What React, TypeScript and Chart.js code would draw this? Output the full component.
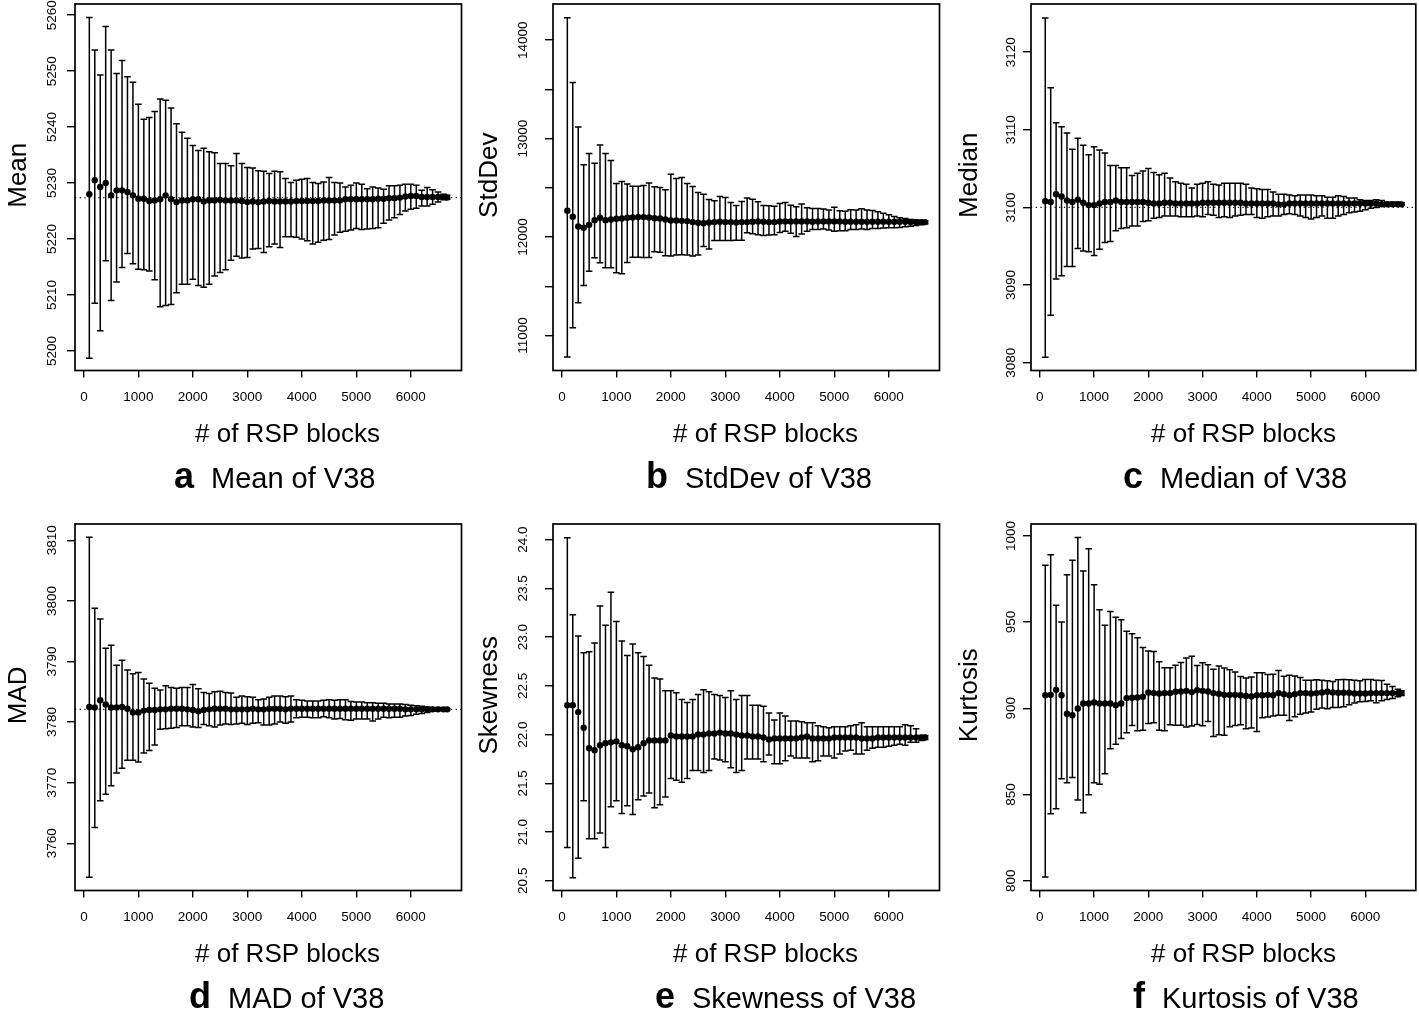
import React, { useEffect, useRef } from "react";
import { Chart, registerables } from "chart.js";

Chart.register(...registerables);

const FONT = "'Liberation Sans', Arial, Helvetica, sans-serif";

// ---------------- data ----------------
const blocks = [
  100, 200, 300, 400, 500, 600, 700, 800, 900, 1000,
  1100, 1200, 1300, 1400, 1500, 1600, 1700, 1800, 1900, 2000,
  2100, 2200, 2300, 2400, 2500, 2600, 2700, 2800, 2900, 3000,
  3100, 3200, 3300, 3400, 3500, 3600, 3700, 3800, 3900, 4000,
  4100, 4200, 4300, 4400, 4500, 4600, 4700, 4800, 4900, 5000,
  5100, 5200, 5300, 5400, 5500, 5600, 5700, 5800, 5900, 6000,
  6100, 6200, 6300, 6400, 6500, 6600, 6667,
];

const xTickValues = [0, 1000, 2000, 3000, 4000, 5000, 6000];

// a: Mean
const meanCenter = [
  5228.0, 5230.5, 5229.3, 5230.0, 5227.8, 5228.7, 5228.7, 5228.4, 5227.8, 5227.2,
  5227.2, 5226.8, 5226.9, 5227.1, 5227.8, 5227.1, 5226.6, 5226.9, 5226.9, 5227.1,
  5227.1, 5226.7, 5226.9, 5226.9, 5227.0, 5226.9, 5226.9, 5226.9, 5226.8, 5226.6,
  5226.7, 5226.6, 5226.7, 5226.8, 5226.7, 5226.7, 5226.7, 5226.7, 5226.8, 5226.8,
  5226.8, 5226.8, 5226.8, 5226.9, 5226.9, 5226.9, 5226.9, 5227.1, 5227.1, 5227.1,
  5227.1, 5227.1, 5227.1, 5227.2, 5227.2, 5227.3, 5227.3, 5227.4, 5227.6, 5227.7,
  5227.7, 5227.5, 5227.5, 5227.5, 5227.5, 5227.5, 5227.4,
];
const meanUpper = [
  5259.6, 5253.8, 5249.3, 5258.0, 5253.8, 5249.6, 5251.9, 5249.0, 5248.0, 5244.1,
  5241.4, 5241.7, 5242.8, 5245.0, 5244.8, 5243.4, 5240.6, 5239.1, 5238.0, 5236.7,
  5235.8, 5236.2, 5235.6, 5235.4, 5233.5, 5233.5, 5233.1, 5235.3, 5233.5, 5232.8,
  5232.7, 5232.2, 5232.1, 5231.7, 5232.1, 5232.0, 5230.8, 5230.1, 5230.5, 5230.7,
  5230.8, 5230.1, 5229.9, 5230.2, 5231.0, 5230.1, 5230.0, 5229.3, 5229.6, 5230.0,
  5229.8, 5229.0, 5229.3, 5229.1, 5228.9, 5229.5, 5229.5, 5229.6, 5229.8, 5229.8,
  5229.6, 5228.7, 5229.2, 5228.8, 5228.4, 5228.0, 5227.8,
];
const meanLower = [
  5198.7, 5208.5, 5203.6, 5216.1, 5209.0, 5212.3, 5214.9, 5217.4, 5215.6, 5214.6,
  5214.5, 5214.3, 5212.7, 5207.9, 5208.1, 5208.3, 5210.4, 5211.9, 5211.9, 5212.8,
  5211.7, 5211.4, 5211.9, 5213.4, 5214.0, 5214.5, 5216.2, 5216.9, 5216.6, 5216.7,
  5218.2, 5218.3, 5217.6, 5218.6, 5219.1, 5218.5, 5220.4, 5220.4, 5220.3, 5220.0,
  5219.7, 5219.1, 5219.4, 5219.8, 5219.9, 5220.7, 5221.2, 5221.4, 5221.6, 5221.9,
  5221.7, 5221.8, 5221.9, 5222.0, 5222.8, 5223.4, 5223.8, 5224.4, 5225.0, 5225.3,
  5225.5, 5225.9, 5225.9, 5226.2, 5226.6, 5227.0, 5227.1,
];
const meanTicks = [5200, 5210, 5220, 5230, 5240, 5250, 5260];
const meanTickLabels = ["5200", "5210", "5220", "5230", "5240", "5250", "5260"];

// b: StdDev
const sdCenter = [
  12267, 12206, 12108, 12094, 12125, 12172, 12196, 12172, 12179, 12186,
  12189, 12196, 12199, 12203, 12203, 12199, 12192, 12189, 12179, 12169,
  12169, 12165, 12162, 12152, 12145, 12141, 12148, 12152, 12155, 12152,
  12152, 12148, 12152, 12152, 12155, 12159, 12155, 12152, 12152, 12159,
  12159, 12159, 12159, 12159, 12159, 12155, 12159, 12159, 12159, 12159,
  12159, 12155, 12155, 12155, 12155, 12155, 12155, 12155, 12155, 12155,
  12155, 12155, 12155, 12152, 12152, 12152, 12152,
];
const sdUpper = [
  14227, 13570, 13117, 12734, 12849, 12751, 12934, 12849, 12778, 12544,
  12565, 12538, 12517, 12517, 12524, 12548, 12511, 12504, 12480, 12639,
  12595, 12605, 12544, 12514, 12453, 12436, 12382, 12368, 12412, 12402,
  12351, 12321, 12362, 12396, 12385, 12358, 12321, 12318, 12314, 12341,
  12351, 12324, 12307, 12335, 12297, 12290, 12290, 12284, 12274, 12304,
  12267, 12263, 12277, 12274, 12287, 12274, 12270, 12257, 12243, 12226,
  12209, 12196, 12189, 12179, 12175, 12169, 12165,
];
const sdLower = [
  10781, 11079, 11333, 11509, 11654, 11790, 11739, 11688, 11688, 11637,
  11627, 11742, 11796, 11796, 11793, 11793, 11851, 11847, 11810, 11807,
  11817, 11820, 11817, 11807, 11817, 11905, 11878, 11966, 11966, 11966,
  11966, 11969, 11969, 12043, 12033, 12023, 12016, 12020, 12023, 12047,
  12060, 12040, 12006, 12030, 12060, 12077, 12077, 12081, 12071, 12060,
  12064, 12064, 12077, 12077, 12081, 12077, 12087, 12087, 12091, 12094,
  12094, 12098, 12104, 12111, 12118, 12125, 12135,
];
const sdTicks = [11000, 11500, 12000, 12500, 13000, 13500, 14000];
const sdTickLabels = ["11000", "", "12000", "", "13000", "", "14000"];

// c: Median
const medCenter = [
  3100.8, 3100.7, 3101.7, 3101.4, 3100.9, 3100.7, 3101.0, 3100.6, 3100.3, 3100.3,
  3100.5, 3100.7, 3100.7, 3100.9, 3100.7, 3100.7, 3100.7, 3100.7, 3100.7, 3100.6,
  3100.5, 3100.5, 3100.6, 3100.6, 3100.5, 3100.5, 3100.5, 3100.5, 3100.5, 3100.6,
  3100.6, 3100.6, 3100.6, 3100.6, 3100.6, 3100.6, 3100.6, 3100.5, 3100.5, 3100.5,
  3100.5, 3100.5, 3100.5, 3100.4, 3100.4, 3100.5, 3100.5, 3100.5, 3100.5, 3100.5,
  3100.5, 3100.5, 3100.5, 3100.5, 3100.5, 3100.5, 3100.5, 3100.5, 3100.5, 3100.5,
  3100.5, 3100.5, 3100.4, 3100.4, 3100.4, 3100.4, 3100.4,
];
const medUpper = [
  3124.4, 3115.4, 3110.9, 3110.4, 3109.6, 3107.5, 3108.9, 3108.0, 3106.8, 3107.8,
  3107.4, 3107.0, 3105.4, 3105.4, 3105.1, 3105.1, 3104.1, 3104.4, 3104.7, 3105.0,
  3104.5, 3104.2, 3104.4, 3103.8, 3103.3, 3103.1, 3103.0, 3102.5, 3103.0, 3103.1,
  3103.3, 3103.0, 3102.9, 3103.1, 3103.1, 3103.1, 3103.1, 3103.0, 3102.5, 3102.4,
  3102.3, 3102.3, 3102.0, 3101.7, 3101.7, 3101.6, 3101.5, 3101.6, 3101.6, 3101.6,
  3101.5, 3101.5, 3101.3, 3101.3, 3101.5, 3101.4, 3101.2, 3101.2, 3101.0, 3100.9,
  3100.9, 3101.0, 3100.9, 3100.7, 3100.7, 3100.7, 3100.6,
];
const medLower = [
  3080.7, 3086.1, 3090.8, 3091.2, 3092.4, 3092.4, 3094.7, 3094.4, 3094.3, 3093.8,
  3094.6, 3095.5, 3095.6, 3097.0, 3097.3, 3097.4, 3097.6, 3097.6, 3098.2, 3098.3,
  3098.6, 3098.7, 3098.9, 3098.9, 3098.9, 3098.8, 3098.8, 3098.8, 3098.9, 3098.8,
  3099.1, 3099.0, 3098.7, 3098.8, 3098.7, 3098.9, 3099.0, 3099.1, 3099.1, 3098.7,
  3098.6, 3098.8, 3098.9, 3098.9, 3099.1, 3099.2, 3099.1, 3098.9, 3098.7, 3098.5,
  3098.7, 3098.9, 3098.6, 3098.6, 3098.9, 3099.1, 3099.3, 3099.4, 3099.5, 3099.7,
  3099.9, 3100.0, 3100.2, 3100.2, 3100.2, 3100.3, 3100.3,
];
const medTicks = [3080, 3090, 3100, 3110, 3120];
const medTickLabels = ["3080", "3090", "3100", "3110", "3120"];

// d: MAD
const madCenter = [
  3782.5, 3782.4, 3783.6, 3782.9, 3782.4, 3782.4, 3782.5, 3782.2, 3781.6, 3781.6,
  3781.9, 3782.0, 3782.0, 3782.1, 3782.1, 3782.2, 3782.2, 3782.2, 3782.1, 3782.0,
  3781.8, 3782.0, 3782.1, 3782.2, 3782.2, 3782.2, 3782.1, 3782.1, 3782.1, 3782.1,
  3782.2, 3782.1, 3782.1, 3782.2, 3782.2, 3782.2, 3782.1, 3782.2, 3782.2, 3782.2,
  3782.2, 3782.2, 3782.2, 3782.2, 3782.2, 3782.2, 3782.2, 3782.2, 3782.2, 3782.2,
  3782.2, 3782.2, 3782.2, 3782.2, 3782.2, 3782.2, 3782.2, 3782.2, 3782.1, 3782.1,
  3782.1, 3782.1, 3782.1, 3782.1, 3782.1, 3782.1, 3782.1,
];
const madUpper = [
  3810.5, 3798.8, 3797.0, 3792.2, 3792.7, 3789.4, 3790.2, 3788.6, 3788.0, 3788.2,
  3787.1, 3786.4, 3785.6, 3785.3, 3786.0, 3785.7, 3785.6, 3785.7, 3785.7, 3786.2,
  3785.5, 3784.9, 3784.7, 3785.0, 3785.1, 3784.9, 3784.8, 3784.1, 3784.3, 3784.2,
  3784.1, 3783.7, 3783.8, 3784.1, 3784.3, 3784.3, 3784.2, 3784.3, 3783.7, 3783.6,
  3783.5, 3783.5, 3783.5, 3783.6, 3783.7, 3783.6, 3783.7, 3783.7, 3783.4, 3783.3,
  3783.3, 3783.2, 3783.2, 3783.1, 3783.1, 3783.0, 3783.0, 3783.0, 3782.9, 3782.8,
  3782.7, 3782.6, 3782.5, 3782.4, 3782.4, 3782.3, 3782.2,
];
const madLower = [
  3754.4, 3762.6, 3767.0, 3768.1, 3769.5, 3771.6, 3772.4, 3773.7, 3773.7, 3773.4,
  3774.9, 3775.3, 3776.2, 3778.8, 3778.9, 3779.0, 3779.1, 3779.4, 3779.4, 3779.2,
  3779.1, 3779.6, 3779.4, 3779.2, 3779.5, 3779.7, 3779.6, 3779.7, 3779.8, 3779.6,
  3779.8, 3779.9, 3779.5, 3779.5, 3779.7, 3780.0, 3779.8, 3780.0, 3780.7, 3780.8,
  3780.8, 3780.7, 3780.7, 3780.9, 3780.7, 3780.5, 3780.6, 3780.4, 3780.3, 3780.5,
  3780.5, 3780.5, 3780.2, 3780.5, 3780.8, 3780.7, 3780.8, 3780.8, 3781.0, 3781.1,
  3781.3, 3781.4, 3781.6, 3781.8, 3781.9, 3781.9, 3782.0,
];
const madTicks = [3760, 3770, 3780, 3790, 3800, 3810];
const madTickLabels = ["3760", "3770", "3780", "3790", "3800", "3810"];

// e: Skewness
const skewCenter = [
  22.30, 22.30, 22.23, 22.07, 21.86, 21.84, 21.89, 21.91, 21.92, 21.93,
  21.89, 21.88, 21.85, 21.87, 21.91, 21.94, 21.94, 21.94, 21.94, 21.99,
  21.98, 21.98, 21.98, 21.98, 22.00, 22.00, 22.01, 22.01, 22.02, 22.01,
  22.01, 22.00, 21.99, 21.99, 21.98, 21.98, 21.97, 21.95, 21.96, 21.96,
  21.96, 21.96, 21.96, 21.97, 21.98, 21.96, 21.96, 21.96, 21.96, 21.97,
  21.97, 21.97, 21.97, 21.97, 21.96, 21.96, 21.96, 21.97, 21.97, 21.97,
  21.97, 21.97, 21.97, 21.97, 21.97, 21.97, 21.97,
];
const skewUpper = [
  24.02, 23.23, 23.01, 22.84, 22.85, 22.94, 23.32, 23.12, 23.46, 23.16,
  22.96, 22.81, 22.93, 22.84, 22.80, 22.71, 22.58, 22.57, 22.45, 22.45,
  22.43, 22.36, 22.33, 22.36, 22.41, 22.46, 22.44, 22.41, 22.40, 22.38,
  22.45, 22.36, 22.40, 22.40, 22.30, 22.30, 22.29, 22.22, 22.15, 22.22,
  22.19, 22.14, 22.14, 22.13, 22.12, 22.12, 22.09, 22.08, 22.07, 22.08,
  22.08, 22.08, 22.09, 22.10, 22.12, 22.08, 22.08, 22.08, 22.08, 22.08,
  22.08, 22.08, 22.10, 22.09, 22.06, 21.99, 21.99,
];
const skewLower = [
  20.84, 20.53, 20.73, 21.32, 20.93, 20.93, 20.99, 20.84, 21.26, 21.32,
  21.19, 21.27, 21.18, 21.33, 21.37, 21.40, 21.25, 21.28, 21.36, 21.55,
  21.53, 21.51, 21.55, 21.63, 21.63, 21.61, 21.63, 21.75, 21.74, 21.72,
  21.66, 21.61, 21.63, 21.75, 21.75, 21.75, 21.72, 21.79, 21.70, 21.70,
  21.73, 21.78, 21.76, 21.76, 21.76, 21.72, 21.73, 21.78, 21.78, 21.76,
  21.80, 21.83, 21.84, 21.80, 21.80, 21.84, 21.86, 21.87, 21.87, 21.88,
  21.89, 21.90, 21.89, 21.92, 21.92, 21.94, 21.95,
];
const skewTicks = [20.5, 21.0, 21.5, 22.0, 22.5, 23.0, 23.5, 24.0];
const skewTickLabels = ["20.5", "21.0", "21.5", "22.0", "22.5", "23.0", "23.5", "24.0"];

// f: Kurtosis
const kurtCenter = [
  907.6, 907.8, 910.7, 907.6, 896.8, 896.0, 899.9, 902.8, 902.8, 903.4,
  902.8, 902.8, 902.8, 901.8, 902.8, 905.9, 906.1, 906.3, 906.7, 909.2,
  908.8, 908.6, 908.8, 908.8, 909.6, 909.8, 910.1, 909.4, 910.5, 910.1,
  909.8, 908.8, 908.4, 907.8, 907.8, 907.8, 907.6, 907.1, 906.9, 907.6,
  907.6, 907.8, 907.6, 908.8, 908.2, 907.6, 908.2, 908.8, 908.8, 908.6,
  908.8, 909.2, 909.6, 909.2, 909.0, 909.0, 909.0, 908.6, 908.6, 908.6,
  908.8, 908.8, 908.8, 908.8, 908.8, 908.8, 908.8,
];
const kurtUpper = [
  983.0, 989.0, 959.8, 950.0, 977.4, 985.9, 999.0, 979.7, 992.5, 971.6,
  957.1, 948.2, 956.1, 952.8, 951.3, 944.7, 943.2, 940.9, 935.3, 933.3,
  932.9, 927.0, 923.5, 923.5, 925.0, 926.6, 929.1, 930.2, 924.8, 926.4,
  925.2, 922.7, 924.6, 923.3, 922.3, 921.0, 918.5, 917.5, 918.1, 920.6,
  920.6, 919.6, 919.8, 921.9, 918.6, 919.2, 918.8, 917.9, 916.3, 916.3,
  916.5, 916.3, 915.9, 915.6, 916.5, 916.7, 916.5, 916.3, 915.9, 916.7,
  916.7, 916.3, 916.1, 914.0, 912.7, 911.1, 910.1,
];
const kurtLower = [
  802.1, 838.8, 841.7, 859.1, 856.8, 859.9, 846.8, 839.4, 849.9, 856.8,
  856.0, 862.0, 876.5, 879.2, 882.5, 885.8, 890.0, 887.0, 887.2, 891.2,
  891.6, 887.2, 887.0, 890.4, 890.2, 890.2, 889.1, 889.7, 890.6, 889.9,
  892.4, 883.7, 884.6, 884.4, 889.3, 890.0, 890.4, 888.1, 888.5, 886.6,
  894.5, 894.9, 895.5, 896.0, 896.0, 892.9, 895.1, 896.6, 897.2, 897.8,
  899.5, 900.1, 899.7, 900.5, 900.5, 900.9, 902.0, 903.0, 903.8, 904.0,
  904.3, 903.2, 904.3, 905.1, 905.7, 906.7, 907.4,
];
const kurtTicks = [800, 850, 900, 950, 1000];
const kurtTickLabels = ["800", "850", "900", "950", "1000"];

// ---------------- layout ----------------
const X_MIN = -163;
const X_MAX = 6930;
const COL_PITCH = 478;
const ROW_PITCH = 520;
const CANVAS_H = 508;
const BOX_LEFT = 75;
const BOX_RIGHT = 461.5;
const BOX_TOP = 4;
const BOX_BOTTOM = 370.5;
const CAP = 3.3;

const tickLabelOffset = [-23, -30, -20];
const yTitleBaseline = [26, 19, 21];

interface PanelSpec {
  letter: string;
  caption: string;
  yTitle: string;
  center: number[];
  upper: number[];
  lower: number[];
  yMin: number;
  yMax: number;
  yTicks: number[];
  yTickLabels: string[];
  refLine?: number;
  col: number;
  row: number;
  captionTextLeft: number;
}

const panels: PanelSpec[] = [
  { letter: "a", caption: "Mean of V38", yTitle: "Mean", center: meanCenter, upper: meanUpper, lower: meanLower,
    yMin: 5196.5, yMax: 5262.0, yTicks: meanTicks, yTickLabels: meanTickLabels, refLine: 5227.4, col: 0, row: 0, captionTextLeft: 211 },
  { letter: "b", caption: "StdDev of V38", yTitle: "StdDev", center: sdCenter, upper: sdUpper, lower: sdLower,
    yMin: 10645, yMax: 14367, yTicks: sdTicks, yTickLabels: sdTickLabels, col: 1, row: 0, captionTextLeft: 207 },
  { letter: "c", caption: "Median of V38", yTitle: "Median", center: medCenter, upper: medUpper, lower: medLower,
    yMin: 3079.0, yMax: 3126.2, yTicks: medTicks, yTickLabels: medTickLabels, refLine: 3100.0, col: 2, row: 0, captionTextLeft: 204 },
  { letter: "d", caption: "MAD of V38", yTitle: "MAD", center: madCenter, upper: madUpper, lower: madLower,
    yMin: 3752.2, yMax: 3812.7, yTicks: madTicks, yTickLabels: madTickLabels, refLine: 3782.1, col: 0, row: 1, captionTextLeft: 228 },
  { letter: "e", caption: "Skewness of V38", yTitle: "Skewness", center: skewCenter, upper: skewUpper, lower: skewLower,
    yMin: 20.4, yMax: 24.16, yTicks: skewTicks, yTickLabels: skewTickLabels, col: 1, row: 1, captionTextLeft: 214 },
  { letter: "f", caption: "Kurtosis of V38", yTitle: "Kurtosis", center: kurtCenter, upper: kurtUpper, lower: kurtLower,
    yMin: 794.3, yMax: 1006.9, yTicks: kurtTicks, yTickLabels: kurtTickLabels, col: 2, row: 1, captionTextLeft: 206 },
];

function makeDecor(spec: PanelSpec) {
  return {
    id: "decor",
    beforeDatasetsDraw(chart: any) {
      const { ctx } = chart;
      const xs = chart.scales.x;
      const ys = chart.scales.y;
      ctx.save();
      ctx.strokeStyle = "#000";
      ctx.lineWidth = 1.5;
      ctx.beginPath();
      blocks.forEach((b, i) => {
        const px = xs.getPixelForValue(b);
        const pu = ys.getPixelForValue(spec.upper[i]);
        const pl = ys.getPixelForValue(spec.lower[i]);
        ctx.moveTo(px, pu);
        ctx.lineTo(px, pl);
        ctx.moveTo(px - CAP, pu);
        ctx.lineTo(px + CAP, pu);
        ctx.moveTo(px - CAP, pl);
        ctx.lineTo(px + CAP, pl);
      });
      ctx.stroke();
      ctx.restore();
    },
    afterDraw(chart: any) {
      const { ctx, chartArea } = chart;
      const ys = chart.scales.y;
      ctx.save();
      // box
      ctx.strokeStyle = "#000";
      ctx.lineWidth = 1.7;
      ctx.strokeRect(chartArea.left, chartArea.top, chartArea.right - chartArea.left, chartArea.bottom - chartArea.top);
      ctx.fillStyle = "#000";
      // y tick labels (rotated, R style)
      ctx.font = `13.5px ${FONT}`;
      ctx.textAlign = "center";
      ctx.textBaseline = "middle";
      spec.yTicks.forEach((v, i) => {
        const lbl = spec.yTickLabels[i];
        if (!lbl) return;
        ctx.save();
        ctx.translate(chartArea.left + tickLabelOffset[spec.col], ys.getPixelForValue(v));
        ctx.rotate(-Math.PI / 2);
        ctx.fillText(lbl, 0, 0);
        ctx.restore();
      });
      // y title
      ctx.font = `26px ${FONT}`;
      ctx.textBaseline = "alphabetic";
      ctx.save();
      ctx.translate(yTitleBaseline[spec.col], (chartArea.top + chartArea.bottom) / 2 - 12);
      ctx.rotate(-Math.PI / 2);
      ctx.fillText(spec.yTitle, 0, 0);
      ctx.restore();
      // x title
      ctx.textAlign = "center";
      ctx.fillText("# of RSP blocks", 287.5, 442);
      // caption
      ctx.textAlign = "left";
      ctx.font = `29px ${FONT}`;
      ctx.fillText(spec.caption, spec.captionTextLeft, 487.5);
      ctx.font = `bold 36px ${FONT}`;
      ctx.textAlign = "right";
      ctx.fillText(spec.letter, spec.captionTextLeft - 17, 487.5);
      ctx.restore();
    },
  };
}

function PanelChart({ spec }: { spec: PanelSpec }) {
  const ref = useRef<HTMLCanvasElement | null>(null);
  const W = spec.col === 2 ? 1419 - 2 * COL_PITCH : COL_PITCH;
  useEffect(() => {
    const canvas = ref.current;
    if (!canvas) return;
    const datasets: any[] = [];
    if (spec.refLine !== undefined) {
      datasets.push({
        type: "scatter",
        data: [
          { x: X_MIN, y: spec.refLine },
          { x: X_MAX, y: spec.refLine },
        ],
        showLine: true,
        borderColor: "#000",
        borderWidth: 1.2,
        borderDash: [1.2, 3.5],
        pointRadius: 0,
        order: 2,
      });
    }
    datasets.push({
      type: "scatter",
      data: blocks.map((b, i) => ({ x: b, y: spec.center[i] })),
      pointRadius: 3.2,
      pointHoverRadius: 3.2,
      backgroundColor: "#000",
      borderColor: "#000",
      pointBorderWidth: 0,
      order: 1,
    });
    const chart = new Chart(canvas, {
      type: "scatter",
      data: { datasets },
      options: {
        animation: false,
        responsive: false,
        devicePixelRatio: 1,
        events: [],
        layout: { padding: { left: 0, top: BOX_TOP, right: W - BOX_RIGHT, bottom: 0 } },
        plugins: { legend: { display: false }, tooltip: { enabled: false } },
        scales: {
          x: {
            type: "linear",
            min: X_MIN,
            max: X_MAX,
            afterBuildTicks: (s: any) => {
              s.ticks = xTickValues.map((v) => ({ value: v }));
            },
            afterFit: (s: any) => {
              s.height = CANVAS_H - BOX_BOTTOM;
            },
            grid: { display: true, drawOnChartArea: false, drawTicks: true, tickLength: 7, color: "#000", lineWidth: 1.4 },
            border: { display: false },
            ticks: {
              color: "#000",
              font: { family: FONT, size: 13.5 },
              padding: 12,
              maxRotation: 0,
              minRotation: 0,
              autoSkip: false,
              callback: (v: any) => String(v),
            },
          },
          y: {
            type: "linear",
            min: spec.yMin,
            max: spec.yMax,
            afterBuildTicks: (s: any) => {
              s.ticks = spec.yTicks.map((v) => ({ value: v }));
            },
            afterFit: (s: any) => {
              s.width = BOX_LEFT;
            },
            grid: { display: true, drawOnChartArea: false, drawTicks: true, tickLength: 8, color: "#000", lineWidth: 1.4 },
            border: { display: false },
            ticks: { display: false },
          },
        },
      } as any,
      plugins: [makeDecor(spec)],
    });
    return () => chart.destroy();
  }, [spec]);
  return (
    <canvas
      ref={ref}
      width={W}
      height={CANVAS_H}
      style={{ position: "absolute", left: spec.col * COL_PITCH, top: spec.row * ROW_PITCH, width: W, height: CANVAS_H }}
    />
  );
}

export default function App() {
  return (
    <div style={{ position: "absolute", left: 0, top: 0, width: 1419, height: 1028, background: "#fff", overflow: "hidden" }}>
      {panels.map((p) => (
        <PanelChart key={p.letter} spec={p} />
      ))}
    </div>
  );
}
